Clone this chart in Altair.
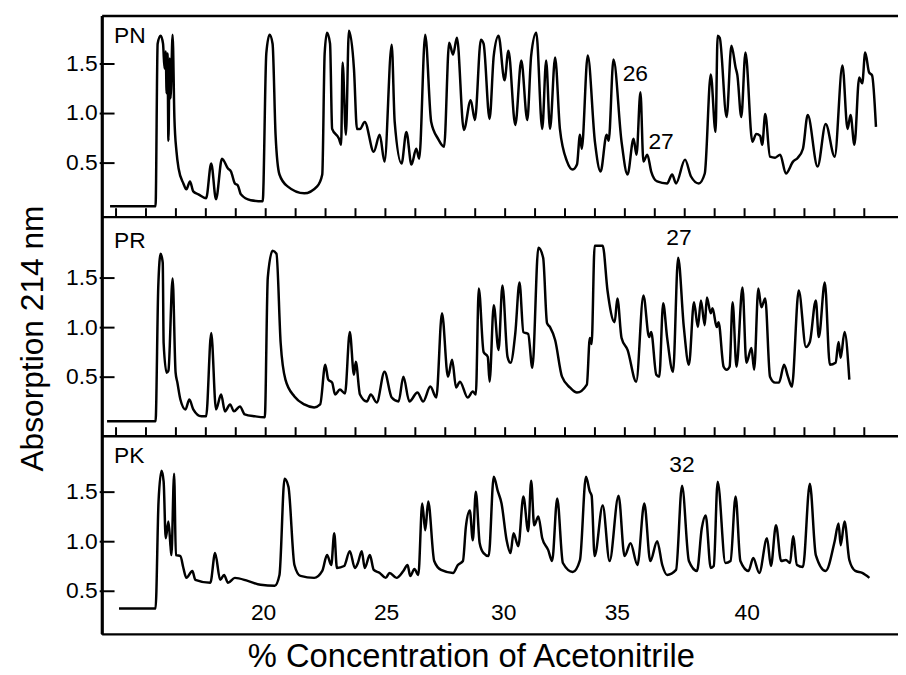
import altair as alt
import pandas as pd

FONT = "Liberation Sans"

# retention position (tick units) and absorbance at 214 nm
pn_trace = [(0.80, 0.06), (2.32, 0.06), (2.39, 1.70), (2.49, 1.78), (2.57, 1.70), (2.62, 1.45), (2.66, 1.62),
            (2.69, 1.20), (2.72, 1.60), (2.75, 0.72), (2.79, 1.55), (2.82, 1.15), (2.89, 1.79), (2.95, 0.95),
            (3.02, 0.61), (3.09, 0.44), (3.25, 0.29), (3.35, 0.23), (3.47, 0.31), (3.58, 0.21), (3.75, 0.18),
            (4.01, 0.14), (4.18, 0.49), (4.34, 0.13), (4.54, 0.54), (4.74, 0.44), (4.84, 0.41), (4.97, 0.29),
            (5.07, 0.27), (5.17, 0.18), (5.50, 0.12), (5.90, 0.11), (6.02, 1.60), (6.13, 1.79), (6.23, 1.70),
            (6.33, 0.78), (6.46, 0.38), (6.73, 0.26), (7.29, 0.19), (7.72, 0.26), (7.89, 0.38), (7.97, 1.60),
            (8.05, 1.81), (8.15, 1.70), (8.22, 0.84), (8.45, 0.74), (8.52, 0.68), (8.57, 1.51), (8.68, 0.78),
            (8.78, 1.83), (8.95, 1.44), (9.05, 0.84), (9.15, 0.84), (9.31, 0.91), (9.61, 0.61), (9.81, 0.78),
            (9.97, 0.51), (10.21, 1.69), (10.31, 0.91), (10.54, 0.49), (10.70, 0.81), (10.87, 0.48), (11.03, 0.64),
            (11.13, 0.54), (11.33, 1.79), (11.53, 0.91), (11.76, 0.74), (11.96, 0.66), (12.13, 1.71), (12.26, 1.59),
            (12.39, 1.76), (12.62, 0.83), (12.85, 1.13), (12.99, 0.93), (13.19, 1.74), (13.28, 1.70), (13.48, 0.94),
            (13.62, 1.58), (13.78, 1.78), (13.98, 1.33), (14.11, 1.63), (14.34, 0.88), (14.54, 1.53), (14.74, 0.93),
            (14.87, 1.58), (15.04, 1.81), (15.24, 0.84), (15.37, 1.53), (15.50, 0.84), (15.67, 1.56), (15.83, 0.84),
            (16.07, 0.51), (16.26, 0.43), (16.40, 0.48), (16.50, 0.78), (16.56, 0.64), (16.76, 1.58), (17.00, 0.71),
            (17.19, 0.41), (17.39, 0.78), (17.46, 0.72), (17.62, 1.54), (17.89, 0.71), (18.09, 0.38), (18.29, 0.74),
            (18.39, 0.58), (18.52, 1.21), (18.62, 0.51), (18.75, 0.58), (18.88, 0.41), (19.08, 0.31), (19.41, 0.29),
            (19.58, 0.38), (19.71, 0.29), (20.01, 0.53), (20.21, 0.36), (20.47, 0.29), (20.67, 0.39), (20.87, 1.39),
            (21.03, 0.81), (21.10, 1.78), (21.17, 1.76), (21.40, 0.96), (21.56, 1.68), (21.70, 1.46), (21.76, 1.38),
            (21.89, 0.96), (22.03, 1.61), (22.26, 0.71), (22.39, 0.79), (22.52, 0.77), (22.59, 0.68), (22.69, 0.99),
            (22.85, 0.56), (23.02, 0.55), (23.19, 0.58), (23.38, 0.39), (23.62, 0.51), (23.78, 0.55), (23.95, 0.64),
            (24.11, 0.98), (24.44, 0.46), (24.71, 0.89), (25.01, 0.56), (25.27, 1.48), (25.44, 0.84), (25.54, 0.98),
            (25.67, 0.68), (25.83, 1.36), (25.93, 1.30), (26.03, 1.61), (26.16, 1.41), (26.26, 1.38), (26.39, 0.86)]

pr_trace = [(0.70, 0.05), (2.32, 0.05), (2.41, 1.40), (2.49, 1.74), (2.56, 1.65), (2.59, 0.84), (2.69, 0.54),
            (2.75, 0.56), (2.89, 1.49), (2.99, 0.54), (3.05, 0.44), (3.15, 0.27), (3.32, 0.17), (3.45, 0.27),
            (3.58, 0.17), (3.85, 0.10), (4.01, 0.10), (4.18, 0.94), (4.34, 0.17), (4.51, 0.32), (4.64, 0.15),
            (4.81, 0.22), (4.94, 0.15), (5.14, 0.20), (5.30, 0.12), (5.64, 0.10), (5.97, 0.09), (6.07, 1.50),
            (6.23, 1.77), (6.36, 1.74), (6.50, 0.84), (6.66, 0.47), (6.96, 0.30), (7.29, 0.22), (7.62, 0.19),
            (7.82, 0.22), (7.99, 0.62), (8.09, 0.47), (8.22, 0.44), (8.32, 0.32), (8.48, 0.37), (8.65, 0.33),
            (8.81, 0.95), (8.95, 0.52), (9.01, 0.65), (9.15, 0.32), (9.38, 0.25), (9.51, 0.32), (9.71, 0.24),
            (9.97, 0.55), (10.21, 0.29), (10.44, 0.25), (10.60, 0.50), (10.80, 0.25), (11.07, 0.34), (11.26, 0.25),
            (11.50, 0.40), (11.70, 0.29), (11.89, 1.14), (12.09, 0.50), (12.23, 0.67), (12.36, 0.39), (12.49, 0.45),
            (12.75, 0.29), (12.92, 0.35), (13.02, 0.32), (13.12, 1.39), (13.28, 0.75), (13.42, 0.70), (13.48, 0.45),
            (13.62, 1.22), (13.78, 0.77), (13.91, 1.42), (14.08, 0.70), (14.18, 0.64), (14.34, 0.94), (14.48, 1.45),
            (14.61, 0.95), (14.77, 0.93), (14.91, 0.59), (15.11, 1.80), (15.27, 1.70), (15.40, 1.04), (15.50, 1.00),
            (15.67, 0.87), (15.90, 0.50), (16.17, 0.39), (16.40, 0.34), (16.73, 0.42), (16.83, 0.89), (16.89, 0.83),
            (16.99, 1.82), (17.26, 1.82), (17.42, 1.37), (17.66, 1.05), (17.75, 1.29), (17.89, 0.89), (18.09, 0.77),
            (18.38, 0.45), (18.62, 1.32), (18.81, 0.90), (18.88, 0.95), (19.05, 0.52), (19.15, 0.50), (19.28, 1.24),
            (19.41, 0.90), (19.61, 0.55), (19.78, 1.70), (19.97, 1.00), (20.14, 0.62), (20.31, 1.25), (20.44, 1.00),
            (20.54, 1.27), (20.67, 1.02), (20.74, 1.30), (20.87, 1.14), (20.93, 1.19), (21.07, 1.00), (21.13, 1.05),
            (21.30, 0.60), (21.40, 0.57), (21.50, 0.60), (21.60, 1.25), (21.73, 0.60), (21.93, 1.40), (22.06, 0.64),
            (22.23, 0.79), (22.32, 0.57), (22.46, 1.39), (22.56, 1.20), (22.69, 1.29), (22.85, 0.50), (23.02, 0.44),
            (23.15, 0.44), (23.32, 0.62), (23.45, 0.50), (23.58, 0.40), (23.81, 1.37), (24.05, 0.80), (24.18, 0.85),
            (24.38, 1.27), (24.48, 0.90), (24.68, 1.45), (24.85, 0.62), (25.04, 0.64), (25.14, 0.85), (25.21, 0.69),
            (25.34, 0.95), (25.50, 0.47)]

pk_trace = [(1.10, 0.32), (2.32, 0.32), (2.42, 1.40), (2.52, 1.71), (2.59, 1.60), (2.66, 1.03), (2.75, 1.20),
            (2.82, 0.95), (2.85, 0.86), (2.94, 1.68), (3.00, 0.86), (3.15, 0.85), (3.25, 0.73), (3.35, 0.63),
            (3.55, 0.70), (3.65, 0.61), (4.15, 0.58), (4.31, 0.88), (4.48, 0.61), (4.61, 0.66), (4.74, 0.58),
            (4.97, 0.63), (5.40, 0.60), (5.83, 0.56), (6.30, 0.55), (6.46, 0.66), (6.63, 1.63), (6.76, 1.55),
            (6.96, 0.76), (7.16, 0.65), (7.62, 0.63), (7.89, 0.70), (8.05, 0.86), (8.19, 0.76), (8.29, 1.08),
            (8.38, 0.73), (8.62, 0.75), (8.81, 0.90), (8.98, 0.73), (9.08, 0.78), (9.21, 0.90), (9.31, 0.73),
            (9.48, 0.86), (9.61, 0.71), (9.81, 0.68), (10.01, 0.63), (10.14, 0.68), (10.37, 0.63), (10.60, 0.70),
            (10.74, 0.76), (10.83, 0.65), (10.97, 0.72), (11.10, 0.66), (11.23, 1.38), (11.33, 1.11), (11.43, 1.40),
            (11.63, 0.80), (11.86, 0.71), (12.26, 0.68), (12.42, 0.76), (12.59, 0.80), (12.69, 1.15), (12.82, 1.31),
            (12.92, 1.01), (13.02, 1.50), (13.15, 0.98), (13.28, 0.88), (13.45, 0.85), (13.62, 1.65), (13.75, 1.51),
            (13.88, 1.38), (14.05, 1.01), (14.18, 0.88), (14.28, 1.08), (14.44, 0.95), (14.61, 1.45), (14.77, 1.10),
            (14.87, 1.61), (14.97, 1.16), (15.11, 1.25), (15.24, 1.03), (15.44, 0.91), (15.57, 0.80), (15.74, 1.43),
            (15.93, 0.78), (16.26, 0.69), (16.50, 0.81), (16.70, 1.65), (16.83, 1.50), (16.89, 1.46), (16.99, 0.85),
            (17.26, 1.36), (17.49, 0.80), (17.79, 1.46), (17.99, 0.85), (18.19, 0.98), (18.42, 0.76), (18.65, 1.38),
            (18.85, 0.80), (19.08, 1.00), (19.25, 0.76), (19.41, 0.66), (19.71, 0.71), (19.91, 1.56), (20.14, 0.80),
            (20.41, 0.70), (20.57, 1.13), (20.70, 1.26), (20.87, 0.73), (20.97, 0.75), (21.10, 1.60), (21.36, 0.78),
            (21.53, 0.80), (21.70, 1.45), (21.86, 0.80), (22.13, 0.70), (22.29, 0.83), (22.49, 0.68), (22.75, 1.03),
            (22.88, 0.75), (23.05, 1.16), (23.22, 0.80), (23.38, 0.81), (23.52, 0.78), (23.62, 1.05), (23.75, 0.76),
            (23.95, 0.74), (24.18, 1.58), (24.38, 0.86), (24.71, 0.70), (25.01, 1.00), (25.14, 1.18), (25.21, 0.96),
            (25.34, 1.20), (25.50, 0.81), (25.70, 0.70), (25.93, 0.68), (26.17, 0.63)]

panel_names = ["PN", "PR", "PK"]
panel_label_pos = [(0.93, 1.78), (0.93, 1.87), (0.93, 1.86)]
peak_labels = [("PN", "26", 18.35, 1.39), ("PN", "27", 19.21, 0.71),
               ("PR", "27", 19.81, 1.90), ("PK", "32", 19.91, 1.77)]
conc_labels = ["20", "25", "30", "35", "40"]
conc_positions = [5.93, 10.04, 13.95, 17.75, 22.09]
conc_label_level = 0.28
tick_positions = list(range(1, 27))
y_tick_values = [0.5, 1.0, 1.5]

# stacking of the three panels on one shared vertical scale
panel_offset = {"PN": 4.26, "PR": 2.10, "PK": -0.06}
panel_bounds = [0.0, 2.00, 4.21, 6.24]
XMIN, XMAX = 0.536, 27.126

rows = []
for name, trace in (("PN", pn_trace), ("PR", pr_trace), ("PK", pk_trace)):
    for t, a in trace:
        rows.append({"panel": name, "t": t, "g": a + panel_offset[name]})
df = pd.DataFrame(rows)

names_df = pd.DataFrame({"label": panel_names,
                         "t": [p[0] for p in panel_label_pos],
                         "g": [p[1] + panel_offset[n] for p, n in zip(panel_label_pos, panel_names)]})
peaks_df = pd.DataFrame({"label": [p[1] for p in peak_labels],
                         "t": [p[2] for p in peak_labels],
                         "g": [p[3] + panel_offset[p[0]] for p in peak_labels]})
conc_df = pd.DataFrame({"label": conc_labels, "t": conc_positions,
                        "g": [conc_label_level + panel_offset["PK"]] * len(conc_labels)})
bounds_df = pd.DataFrame({"g": panel_bounds})
ticks_df = pd.DataFrame([{"t": t, "g": b, "g2": b + 0.09}
                         for b in (panel_bounds[1], panel_bounds[2]) for t in tick_positions])

ytick_global = [v + panel_offset[n] for n in panel_names for v in y_tick_values]

xs = alt.Scale(domain=[XMIN, XMAX], nice=False, zero=False)
ys = alt.Scale(domain=[panel_bounds[0], panel_bounds[-1]], nice=False, zero=False)

x_axis = alt.Axis(title="% Concentration of Acetonitrile", labels=False, ticks=False, domain=False,
                  grid=False, titleFontSize=33, titleFontWeight="normal", titleFont=FONT,
                  titleColor="black", titleX=372, titleY=32, titleBaseline="alphabetic",
                  titleAlign="center")
y_axis = alt.Axis(title="Absorption 214 nm", values=ytick_global,
                  labelExpr="format(datum.value > 4.1 ? datum.value - 4.26 : (datum.value > 1.9 ? datum.value - 2.10 : datum.value + 0.06), '.1f')",
                  offset=-12, domain=False, grid=False, tickSize=15, tickWidth=2, tickColor="black",
                  labelPadding=2, labelFontSize=23, labelFont=FONT, labelColor="black", labelOverlap=False,
                  titleFontSize=32, titleFontWeight="normal", titleFont=FONT, titleColor="black",
                  titleX=-82, titleY=325, titleAngle=270, titleAlign="center", titleBaseline="middle")

lines = alt.Chart(df).mark_line(interpolate="monotone", color="black", strokeWidth=2.5,
                                strokeJoin="round").encode(
    x=alt.X("t:Q", scale=xs, axis=x_axis),
    y=alt.Y("g:Q", scale=ys, axis=y_axis),
    detail="panel:N",
)

frame_h = alt.Chart(bounds_df).mark_rule(color="black", strokeWidth=2.5).encode(
    y=alt.Y("g:Q", scale=ys))
frame_v = alt.Chart(bounds_df).mark_rule(color="black", strokeWidth=2.5).encode(
    x=alt.datum(XMIN))
ticks = alt.Chart(ticks_df).mark_rule(color="black", strokeWidth=2).encode(
    x=alt.X("t:Q", scale=xs), y=alt.Y("g:Q", scale=ys), y2="g2:Q")

txt = dict(fontSize=23, font=FONT, color="black", baseline="middle")
names = alt.Chart(names_df).mark_text(align="left", **txt).encode(
    x=alt.X("t:Q", scale=xs), y=alt.Y("g:Q", scale=ys), text="label:N")
peaks = alt.Chart(peaks_df).mark_text(align="center", **txt).encode(
    x=alt.X("t:Q", scale=xs), y=alt.Y("g:Q", scale=ys), text="label:N")
conc = alt.Chart(conc_df).mark_text(align="center", **txt).encode(
    x=alt.X("t:Q", scale=xs), y=alt.Y("g:Q", scale=ys), text="label:N")

chart = alt.layer(lines, frame_h, frame_v, ticks, names, peaks, conc).properties(
    width=803, height=624,
    autosize=alt.AutoSizeParams(type="none"),
    padding={"left": 95, "top": 5, "right": 0, "bottom": 38},
).configure(font=FONT).configure_view(strokeWidth=0)

chart.save("out.html", embed_options={"renderer": "svg", "actions": False})
